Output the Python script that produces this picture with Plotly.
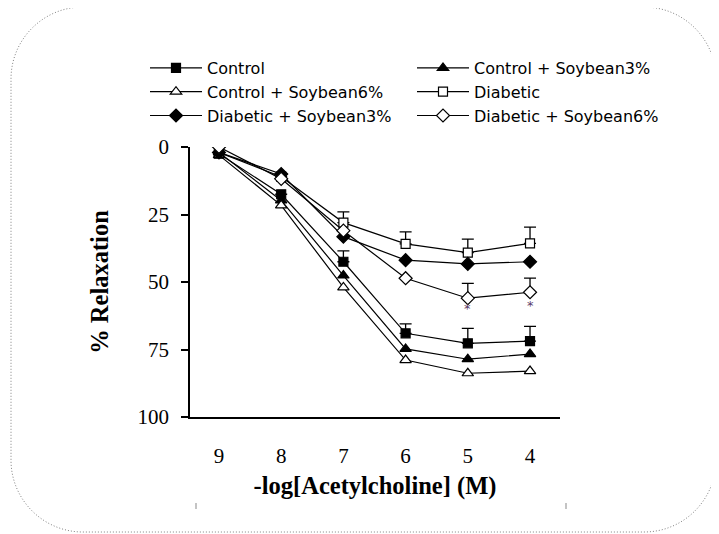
import plotly.graph_objects as go

# ---- data ----
doses = [9, 8, 7, 6, 5, 4]
dose_labels = ["9", "8", "7", "6", "5", "4"]

control = [2.5, 17.5, 42.5, 69.0, 72.7, 71.9]
control_err = [0, 0, 4.0, 3.5, 5.5, 5.5]
control_s3 = [2.0, 19.8, 47.6, 74.8, 78.6, 76.7]
control_s6 = [3.0, 21.6, 52.0, 78.9, 83.8, 83.0]
diabetic = [2.0, 11.0, 28.0, 35.9, 39.1, 35.7]
diabetic_err = [0, 0, 4.0, 4.5, 5.0, 6.0]
diabetic_s3 = [2.0, 10.0, 33.2, 41.9, 43.3, 42.5]
diabetic_s6 = [0.0, 11.8, 31.0, 48.6, 56.0, 53.8]
diabetic_s6_err = [0, 0, 0, 0, 5.5, 5.2]

y_ticks = [0, 25, 50, 75, 100]
sig_doses = [5, 4]
sig_values = [59.8, 58.6]

# ---- layout geometry (screen pixels; page body adds an 8px offset) ----
OFF = 8
W, H = 719 - OFF, 534 - OFF
L, R, T, B = 190 - OFF, 560 - OFF, 147 - OFF, 417 - OFF


def px(x):
    """screen x pixel -> paper coordinate"""
    return (x - OFF - L) / (R - L)


def py(y):
    """screen y pixel -> paper coordinate"""
    return (B - (y - OFF)) / (B - T)


fig = go.Figure()

series = [
    ("Control", control, control_err, "square", "black", 9),
    ("Control + Soybean3%", control_s3, None, "triangle-up", "black", 10),
    ("Control + Soybean6%", control_s6, None, "triangle-up", "white", 10),
    ("Diabetic", diabetic, diabetic_err, "square", "white", 9),
    ("Diabetic + Soybean3%", diabetic_s3, None, "diamond", "black", 10),
    ("Diabetic + Soybean6%", diabetic_s6, diabetic_s6_err, "diamond", "white", 10),
]

for name, vals, err, sym, fill, size in series:
    kw = {}
    if err is not None:
        kw["error_y"] = dict(
            type="data", symmetric=False, array=[0] * len(err), arrayminus=err,
            color="black", thickness=1.3, width=6,
        )
    fig.add_trace(go.Scatter(
        x=doses, y=vals, name=name, mode="lines+markers",
        line=dict(color="black", width=1.2),
        marker=dict(symbol=sym, size=size, color=fill,
                    line=dict(color="black", width=1.2)),
        **kw,
    ))

# significance asterisks
for d, v in zip(sig_doses, sig_values):
    fig.add_annotation(x=d, y=v, text="*", showarrow=False,
                       font=dict(family="DejaVu Sans", size=13, color="#5a3a6a"))

# rounded dotted border
bl, br, bt, bb, r = 11, 716, 7, 532, 72
k = 0.5523 * r
pts = [
    ("M", [(bl + r, bt)]),
    ("L", [(br - r, bt)]),
    ("C", [(br - r + k, bt), (br, bt + r - k), (br, bt + r)]),
    ("L", [(br, bb - r)]),
    ("C", [(br, bb - r + k), (br - r + k, bb), (br - r, bb)]),
    ("L", [(bl + r, bb)]),
    ("C", [(bl + r - k, bb), (bl, bb - r + k), (bl, bb - r)]),
    ("L", [(bl, bt + r)]),
    ("C", [(bl, bt + r - k), (bl + r - k, bt), (bl + r, bt)]),
]
path = ""
for cmd, ps in pts:
    path += cmd + " ".join(f"{px(x):.5f},{py(y):.5f}" for x, y in ps)
path += "Z"
fig.add_shape(type="path", path=path, xref="paper", yref="paper",
              line=dict(color="#808080", width=1, dash="1px,2px"), layer="below")

# small gray marks at bottom
for xm in (196, 566):
    fig.add_shape(type="line", xref="paper", yref="paper",
                  x0=px(xm), x1=px(xm), y0=py(503), y1=py(509),
                  line=dict(color="#b0b0b0", width=1.5))

serif = "Liberation Serif"

fig.update_layout(
    width=W, height=H,
    margin=dict(l=L, r=W - R, t=T, b=H - B, autoexpand=False),
    paper_bgcolor="white", plot_bgcolor="white",
    showlegend=True,
    legend=dict(
        orientation="h", xref="paper", yref="paper",
        x=px(145), y=py(51), xanchor="left", yanchor="top",
        entrywidth=200, entrywidthmode="pixels",
        font=dict(family="DejaVu Sans", size=16, color="black"),
        itemwidth=52, bgcolor="rgba(0,0,0,0)", tracegroupgap=0,
    ),
    xaxis=dict(
        range=[9.466, 3.518], tickmode="array", tickvals=doses, ticktext=dose_labels,
        showgrid=False, zeroline=False, showline=True, linecolor="black", linewidth=1.5,
        ticks="", ticklabelstandoff=19,
        tickfont=dict(family=serif, size=21, color="black"),
        title=dict(text="<b>-log[Acetylcholine] (M)</b>", standoff=10,
                   font=dict(family=serif, size=24.5, color="black")),
    ),
    yaxis=dict(
        range=[100, 0], tickmode="array", tickvals=y_ticks,
        showgrid=False, zeroline=False, showline=True, linecolor="black", linewidth=1.5,
        ticks="outside", ticklen=7, tickwidth=1.5, tickcolor="black",
        ticklabelstandoff=8,
        tickfont=dict(family=serif, size=21, color="black"),
        title=dict(text="<b>% Relaxation</b>", standoff=22,
                   font=dict(family=serif, size=24.5, color="black")),
    ),
)

fig.write_html("out.html")
